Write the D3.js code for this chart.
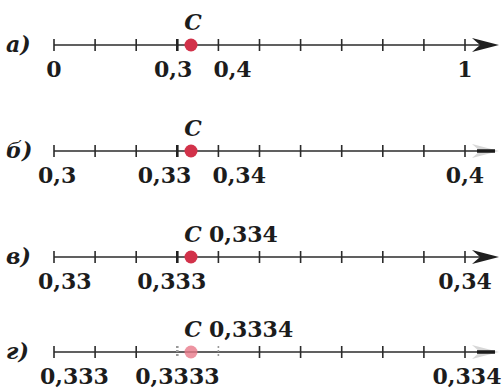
<!DOCTYPE html>
<meta charset="utf-8">
<style>
    body { margin: 0; background: #fff; }
    svg text {
        font-family: "DejaVu Serif", serif;
        font-weight: bold;
        font-size: 22px;
        fill: #1c1c1c;
    }
    .axis-line { stroke: #2b2b2b; stroke-width: 1.6px; fill: none; }
    .tick { stroke: #2b2b2b; stroke-width: 1.6px; }
    .tick.near { stroke-width: 2.6px; stroke: #222; }
    .arrow { fill: #1f1f1f; }
    .letter, .pname { font-style: italic; }
</style>
<svg width="503" height="391"></svg>
<script src="https://cdn.jsdelivr.net/npm/d3@7"></script>
<script>
    // rows of the picture: а) б) в) г)
    const rowLetters = ["а)", "б)", "в)", "г)"];
    const rowDomains = [[0, 1], [0.3, 0.4], [0.33, 0.34], [0.333, 0.334]];
    const pointValue = 1 / 3;
    const pointNames = ["C", "C", "C", "C"];
    const pointValueText = ["", "", "0,334", "0,3334"];
    const tickLabels = [
        [{v: 0, t: "0"}, {v: 0.3, t: "0,3"}, {v: 0.4, t: "0,4"}, {v: 1, t: "1"}],
        [{v: 0.3, t: "0,3"}, {v: 0.33, t: "0,33"}, {v: 0.34, t: "0,34"}, {v: 0.4, t: "0,4"}],
        [{v: 0.33, t: "0,33"}, {v: 0.333, t: "0,333"}, {v: 0.34, t: "0,34"}],
        [{v: 0.333, t: "0,333"}, {v: 0.3333, t: "0,3333"}, {v: 0.334, t: "0,334"}]
    ];

    var svg = d3.select("svg");
    var rowY = [45, 151, 257, 352];

    // where each tick label sits relative to its tick (anchor, dx)
    var labelPlace = [
        [["middle", 0], ["end", 15], ["start", -5], ["middle", 0]],
        [["start", -16], ["end", 14], ["start", -6], ["middle", 0]],
        [["start", -16], ["start", -40], ["middle", 0]],
        [["start", -14], ["start", -42], ["middle", 2]]
    ];

    rowDomains.forEach(function(dom, i) {
        var x = d3.scaleLinear().domain(dom).range([54, 465]);
        var g = svg.append("g").attr("transform", "translate(0," + rowY[i] + ")");
        var faded = i === 1 || i === 3;
        var tipX = 499;

        g.append("text")
            .attr("class", "letter")
            .attr("x", 6)
            .attr("y", 7)
            .text(rowLetters[i]);

        g.append("line")
            .attr("class", "axis-line")
            .attr("x1", x(dom[0]))
            .attr("x2", tipX - 4)
            .attr("y1", 0)
            .attr("y2", 0);

        var ticks = x.ticks(10);
        var step = (dom[1] - dom[0]) / 10;
        var idx = d => Math.round((d - dom[0]) / step);
        g.selectAll(".tick")
            .data(ticks)
            .enter().append("line")
            .attr("class", d => idx(d) === 3 ? "tick near" : "tick")
            .attr("x1", d => x(d))
            .attr("x2", d => x(d))
            .attr("y1", -6)
            .attr("y2", 6)
            .style("stroke", d => (i === 3 && (idx(d) === 3 || idx(d) === 4)) ? "#999" : null)
            .style("stroke-dasharray", d => (i === 3 && (idx(d) === 3 || idx(d) === 4)) ? "2,2" : null);

        // arrow head (printed faintly on б and г)
        var arrow = "M" + tipX + ",0 L" + (tipX - 27) + ",-7 L" + (tipX - 19) + ",0 L" + (tipX - 27) + ",7 Z";
        g.append("path")
            .attr("class", "arrow")
            .attr("d", arrow)
            .style("opacity", faded ? 0.18 : 1);
        if (faded) {
            g.append("line")
                .attr("x1", tipX - 22).attr("x2", tipX - 4)
                .attr("y1", 0).attr("y2", 0)
                .style("stroke", "#1a1a1a")
                .style("stroke-width", 3.5);
        }

        // point C
        g.append("circle")
            .attr("cx", x(pointValue))
            .attr("cy", 0)
            .attr("r", 6.5)
            .style("fill", i === 3 ? "#e8798a" : "#d2324a")
            .style("opacity", i === 3 ? 0.8 : 1);

        g.append("text")
            .attr("class", "pname")
            .attr("x", x(pointValue) + 2)
            .attr("y", -15)
            .attr("text-anchor", "middle")
            .text(pointNames[i]);
        if (pointValueText[i]) {
            g.append("text")
                .attr("x", x(pointValue) + 18)
                .attr("y", -15)
                .text(pointValueText[i]);
        }

        g.selectAll(".tlabel")
            .data(tickLabels[i])
            .enter().append("text")
            .attr("class", "tlabel")
            .attr("x", (d, j) => x(d.v) + labelPlace[i][j][1])
            .attr("y", 32)
            .attr("text-anchor", (d, j) => labelPlace[i][j][0])
            .text(d => d.t);
    });
</script>
